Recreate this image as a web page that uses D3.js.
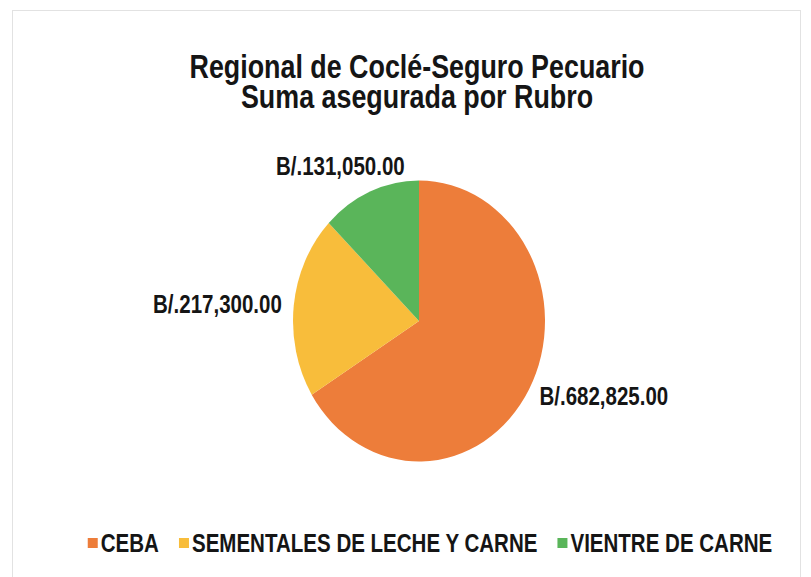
<!DOCTYPE html>
<html>
<head>
<meta charset="utf-8">
<script src="https://cdn.jsdelivr.net/npm/d3@7"></script>
<style>
  body { margin: 0; background: #fff; }
  text { font-family: "Liberation Sans", Arial, sans-serif; font-weight: bold; fill: #151515; }
</style>
</head>
<body>
<svg id="chart" width="811" height="577"></svg>
<script>
"use strict";

// data
const categories = ["CEBA", "SEMENTALES DE LECHE Y CARNE", "VIENTRE DE CARNE"];
const amounts = [682825, 217300, 131050];
const colors = ["#ED7D3A", "#F8BD3B", "#5AB55A"];
const titleLines = ["Regional de Coclé-Seguro Pecuario", "Suma asegurada por Rubro"];

let width = 811;
let height = 577;
let svg = d3.select("#chart");

// condensed text helper (no Arial Narrow installed, so squeeze Liberation Sans)
function narrowText(parent, x, y, str, size, anchor, squeeze) {
  let g = parent.append("g")
    .attr("transform", `translate(${x},${y}) scale(${squeeze || 0.82},1)`);
  g.append("text")
    .attr("text-anchor", anchor || "start")
    .style("font-size", size + "px")
    .text(str);
  return g;
}

// chart area border
svg.append("rect")
  .attr("x", 12.5).attr("y", 10.5)
  .attr("width", 788).attr("height", 580)
  .attr("fill", "#fff")
  .attr("stroke", "#e2e2e2");

// Title
titleLines.forEach((line, i) => {
  narrowText(svg, 417, 78 + i * 30, line, 34, "middle", 0.79);
});

// Pie (slightly stretched vertically, as in the picture)
let cx = 419, cy = 321, rx = 126, ry = 140.5;
let stretch = ry / rx;

let pie = d3.pie().sort(null).value(d => d);
let arcs = pie(amounts);
let arc = d3.arc().innerRadius(0).outerRadius(rx);

let pieGroup = svg.append("g")
  .attr("transform", `translate(${cx},${cy}) scale(1,${stretch})`);

pieGroup.selectAll("path")
  .data(arcs)
  .enter()
  .append("path")
  .attr("d", arc)
  .attr("fill", (d, i) => colors[i]);

// Data labels outside the slices
let fmt = d3.format(",.2f");
let labelR = 138;
let labelNudge = [[0, 0], [0, 0], [-25, -4]];

arcs.forEach((d, i) => {
  let a = (d.startAngle + d.endAngle) / 2;
  let s = Math.sin(a), c = Math.cos(a);
  let x = cx + s * labelR + labelNudge[i][0];
  let y = cy - c * labelR * stretch + labelNudge[i][1];
  let anchor = s > 0.5 ? "start" : (s < -0.5 ? "end" : "middle");
  if (Math.abs(s) > 0.5) y += 9; // vertically centre side labels
  narrowText(svg, x, y, "B/." + fmt(d.data), 25, anchor);
});

// Legend, centred under the chart
let legend = svg.append("g").attr("class", "legend");
let offset = 0;
categories.forEach((name, i) => {
  let item = legend.append("g");
  item.append("rect")
    .attr("width", 10).attr("height", 10)
    .attr("y", -14)
    .attr("fill", colors[i]);
  narrowText(item, 13, 0, name, 26, "start", 0.79);
  let w = item.node().getBBox().width;
  item.attr("transform", `translate(${offset},0)`);
  offset += w + 20;
});
let legendWidth = offset - 20;
legend.attr("transform", `translate(${430 - legendWidth / 2},552)`);
</script>
</body>
</html>
